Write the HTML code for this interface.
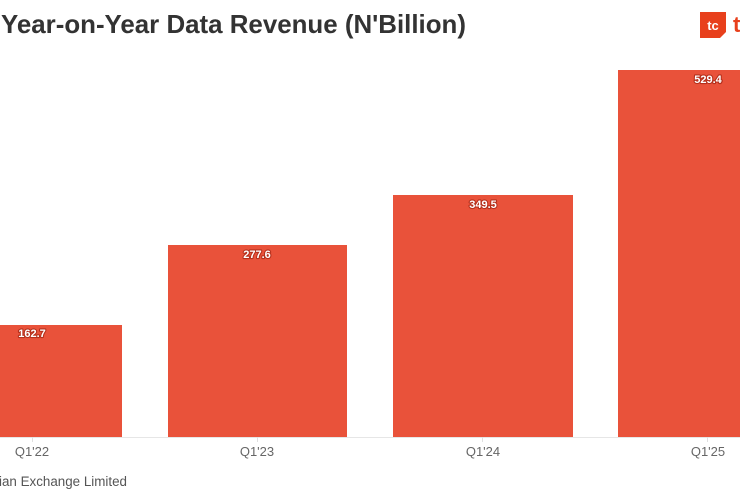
<!DOCTYPE html>
<html>
<head>
<meta charset="utf-8">
<style>
  html, body { margin:0; padding:0; background:#ffffff; }
  body { width:740px; height:500px; overflow:hidden; }
  svg { display:block; }
  .lbl { font-family:"Liberation Sans", sans-serif; font-weight:bold; font-size:11px; fill:#ffffff; stroke:#b5301c; stroke-width:2.2px; paint-order:stroke; stroke-linejoin:round; }
  .ax { font-family:"Liberation Sans", sans-serif; font-size:13px; fill:#666666; }
</style>
</head>
<body>
<svg width="740" height="500" viewBox="0 0 740 500" xmlns="http://www.w3.org/2000/svg">
  <rect x="0" y="0" width="740" height="500" fill="#ffffff"/>
  <!-- Title -->
  <text x="1" y="33" font-family="'Liberation Sans', sans-serif" font-weight="bold" font-size="26" fill="#333333" textLength="465" lengthAdjust="spacingAndGlyphs">Year-on-Year Data Revenue (N'Billion)</text>
  <!-- Logo -->
  <path d="M700 12 H726 V32 L720 38 H700 Z" fill="#e8401c"/>
  <text x="713" y="30" text-anchor="middle" font-family="'Liberation Sans', sans-serif" font-weight="bold" font-size="13" fill="#ffffff">tc</text>
  <text x="733" y="32" font-family="'Liberation Sans', sans-serif" font-weight="bold" font-size="22" fill="#e8401c">t</text>

  <!-- Baseline -->
  <line x1="0" y1="437.5" x2="740" y2="437.5" stroke="#e6e6e6" stroke-width="1"/>
  <!-- Ticks -->
  <line x1="32.5" y1="437" x2="32.5" y2="442" stroke="#e0e0e0"/>
  <line x1="257.5" y1="437" x2="257.5" y2="442" stroke="#e0e0e0"/>
  <line x1="482.5" y1="437" x2="482.5" y2="442" stroke="#e0e0e0"/>
  <line x1="707.5" y1="437" x2="707.5" y2="442" stroke="#e0e0e0"/>

  <!-- Bars -->
  <rect x="-57" y="325" width="179" height="112" fill="#e9523a"/>
  <rect x="168" y="245" width="179" height="192" fill="#e9523a"/>
  <rect x="393" y="195" width="180" height="242" fill="#e9523a"/>
  <rect x="618" y="70" width="180" height="367" fill="#e9523a"/>

  <!-- Value labels -->
  <text class="lbl" x="32" y="337" text-anchor="middle">162.7</text>
  <text class="lbl" x="257" y="258" text-anchor="middle">277.6</text>
  <text class="lbl" x="483" y="208" text-anchor="middle">349.5</text>
  <text class="lbl" x="708" y="83" text-anchor="middle">529.4</text>

  <!-- Axis labels -->
  <text class="ax" x="32" y="456" text-anchor="middle">Q1'22</text>
  <text class="ax" x="257" y="456" text-anchor="middle">Q1'23</text>
  <text class="ax" x="483" y="456" text-anchor="middle">Q1'24</text>
  <text class="ax" x="708" y="456" text-anchor="middle">Q1'25</text>

  <!-- Source -->
  <text x="-1" y="486" font-family="'Liberation Sans', sans-serif" font-size="13.5" fill="#555555" textLength="128" lengthAdjust="spacingAndGlyphs">ian Exchange Limited</text>
</svg>
</body>
</html>
